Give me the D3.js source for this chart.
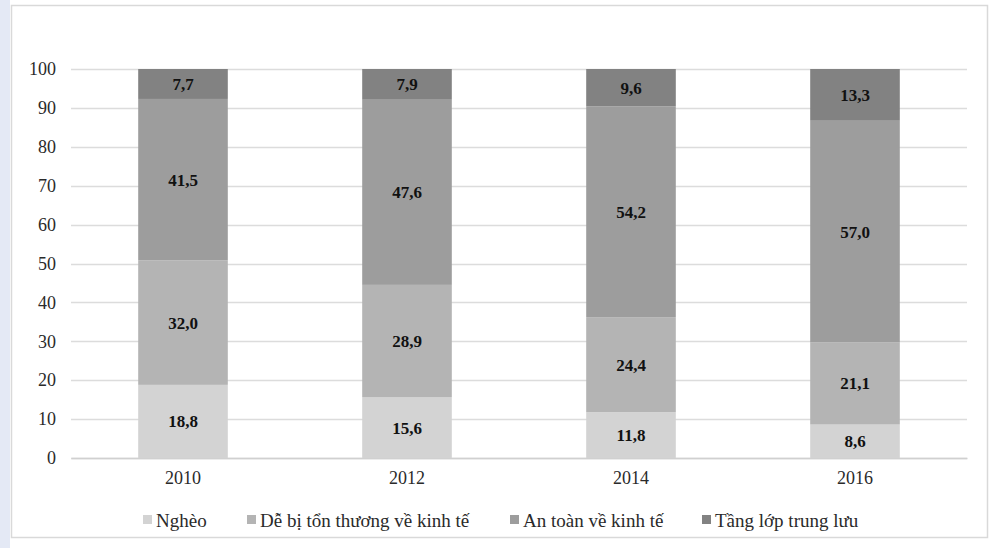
<!DOCTYPE html>
<html><head><meta charset="utf-8">
<script src="https://cdn.jsdelivr.net/npm/d3@7"></script>
<style>
body{margin:0;background:#fff;}
svg{display:block;}
svg text{font-family:"Liberation Serif","Times New Roman","DejaVu Serif",serif;}
</style></head>
<body>
<svg id="c" width="993" height="548"></svg>
<script>
const years = ["2010","2012","2014","2016"];
const seriesNames = ["Nghèo","Dễ bị tổn thương về kinh tế","An toàn về kinh tế","Tầng lớp trung lưu"];
const ngheo = [18.8,15.6,11.8,8.6];
const deBi = [32.0,28.9,24.4,21.1];
const anToan = [41.5,47.6,54.2,57.0];
const trungLuu = [7.7,7.9,9.6,13.3];
const yTicks = [0,10,20,30,40,50,60,70,80,90,100];
const colors = ["#d3d3d3","#b4b4b4","#9d9d9d","#828282"];

const seriesVals = [ngheo, deBi, anToan, trungLuu];
const rows = years.map((y,i)=>{const o={year:y}; seriesNames.forEach((s,j)=>o[s]=seriesVals[j][i]); return o;});
const stacked = d3.stack().keys(seriesNames)(rows);

const svg = d3.select("#c");
svg.append("rect").attr("x",0).attr("y",0).attr("width",993).attr("height",548).attr("fill","#fff");
svg.append("rect").attr("x",0).attr("y",0).attr("width",10).attr("height",548).attr("fill","#e4e9f5");
svg.append("rect").attr("x",11.5).attr("y",5.5).attr("width",976).attr("height",532).attr("fill","#fff").attr("stroke","#d9d9d9").attr("stroke-width",1.5);

const x = d3.scaleBand().domain(years).range([71,967]).paddingInner(0.6).paddingOuter(0.3);
const y = d3.scaleLinear().domain([0,100]).range([458,69]);

// gridlines
svg.append("g").selectAll("line").data(yTicks).join("line")
  .attr("x1",71).attr("x2",967).attr("y1",d=>Math.round(y(d))+0.5).attr("y2",d=>Math.round(y(d))+0.5)
  .attr("stroke","#dcdcdc").attr("stroke-width",1.5);

// y axis
const ya = svg.append("g").attr("transform","translate(71,0)")
  .call(d3.axisLeft(y).tickValues(yTicks).tickSize(0).tickPadding(15));
ya.select(".domain").remove();
ya.attr("font-family",null);
ya.selectAll("text").attr("font-size",18).attr("fill","#2a2a2a");

// x axis
const xa = svg.append("g").attr("transform","translate(0,458)")
  .call(d3.axisBottom(x).tickSize(0).tickPadding(13));
xa.attr("font-family",null);
xa.select(".domain").attr("stroke","#d0d0d0").attr("stroke-width",1.5);
xa.selectAll("text").attr("font-size",18).attr("fill","#2a2a2a");

// bars
const g = svg.append("g");
stacked.forEach((s,j)=>{
  g.selectAll(null).data(s).join("rect")
    .attr("x",d=>x(d.data.year)).attr("width",x.bandwidth())
    .attr("y",d=>y(d[1])).attr("height",d=>y(d[0])-y(d[1]))
    .attr("fill",colors[j]);
  g.selectAll(null).data(s).join("text")
    .attr("x",d=>x(d.data.year)+x.bandwidth()/2)
    .attr("y",d=>(y(d[0])+y(d[1]))/2)
    .attr("dy","0.35em").attr("text-anchor","middle")
    .attr("font-size",17).attr("font-weight","bold").attr("fill","#111")
    .text(d=>d3.format(".1f")(d[1]-d[0]).replace(".",","));
});

// legend
const legX = [143,247,510,702];
const leg = svg.append("g");
seriesNames.forEach((s,j)=>{
  leg.append("rect").attr("x",legX[j]).attr("y",515).attr("width",9).attr("height",9).attr("fill",colors[j]);
  leg.append("text").attr("x",legX[j]+13).attr("y",520).attr("dy","0.35em")
    .attr("font-size",19).attr("fill","#2a2a2a").text(s);
});
</script>
</body></html>
